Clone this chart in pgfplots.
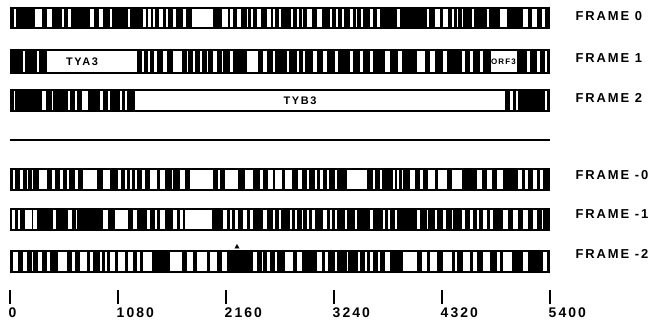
\documentclass[border=0pt]{standalone}
\usepackage{fontspec}
\setmainfont{Liberation Sans}[LetterSpace=15]
\usepackage{pgfplots}
\pgfplotsset{compat=1.18}
\begin{document}
\begin{tikzpicture}[lab/.style={anchor=west, font=\bfseries\fontsize{13}{15}\selectfont}]
\begin{axis}[
  scale only axis, width=655bp, height=323bp,
  xmin=-95, xmax=6455, ymin=-26, ymax=297,
  axis y line=none, axis x line*=middle,
  x axis line style={draw=none},
  xtick={0,1080,2160,3240,4320,5400},
  xticklabels={0,1080,2160,3240,4320,5400},
  tick align=center, major tick length=14bp,
  tick style={black, line width=2bp},
  xticklabel style={anchor=north west, inner xsep=0pt, font=\bfseries\fontsize{14}{16}\selectfont, xshift=-1bp},
  /pgf/number format/assume math mode=true,
  clip=false,
  gap/.style={white, line width=#1, line cap=butt, unbounded coords=jump},
]
\path (rel axis cs:0,0) rectangle (rel axis cs:1,1);
% black row bodies
\addplot[fill=black, draw=none] coordinates {(0,268)(5400,268)(5400,290)(0,290)} -- cycle;
\addplot[fill=black, draw=none] coordinates {(0,223)(5400,223)(5400,248)(0,248)} -- cycle;
\addplot[fill=black, draw=none] coordinates {(0,185)(5400,185)(5400,208)(0,208)} -- cycle;
\addplot[fill=black, draw=none] coordinates {(0,106)(5400,106)(5400,129)(0,129)} -- cycle;
\addplot[fill=black, draw=none] coordinates {(0,66)(5400,66)(5400,89)(0,89)} -- cycle;
\addplot[fill=black, draw=none] coordinates {(0,23.5)(5400,23.5)(5400,46.5)(0,46.5)} -- cycle;
% FRAME 0
\addplot[gap=18bp] coordinates {(40,279)(62,279)(nan,nan)(255,279)(322,279)(nan,nan)(372,279)(428,279)(nan,nan)(528,279)(545,279)(nan,nan)(588,279)(612,279)(nan,nan)(805,279)(845,279)(nan,nan)(895,279)(938,279)(nan,nan)(1005,279)(1028,279)(nan,nan)(1188,279)(1205,279)(nan,nan)(1338,279)(1365,279)(nan,nan)(1388,279)(1412,279)(nan,nan)(1432,279)(1455,279)(nan,nan)(1498,279)(1532,279)(nan,nan)(1565,279)(1588,279)(nan,nan)(1632,279)(1665,279)(nan,nan)(1732,279)(1765,279)(nan,nan)(1828,279)(2038,279)(nan,nan)(2122,279)(2188,279)(nan,nan)(2205,279)(2238,279)(nan,nan)(2278,279)(2312,279)(nan,nan)(2372,279)(2388,279)(nan,nan)(2412,279)(2432,279)(nan,nan)(2472,279)(2512,279)(nan,nan)(2572,279)(2612,279)(nan,nan)(2638,279)(2658,279)(nan,nan)(2695,279)(2712,279)(nan,nan)(2812,279)(2832,279)(nan,nan)(2872,279)(2892,279)(nan,nan)(2922,279)(2938,279)(nan,nan)(2978,279)(3022,279)(nan,nan)(3072,279)(3122,279)(nan,nan)(3205,279)(3225,279)(nan,nan)(3265,279)(3282,279)(nan,nan)(3322,279)(3345,279)(nan,nan)(3405,279)(3432,279)(nan,nan)(3465,279)(3478,279)(nan,nan)(3512,279)(3538,279)(nan,nan)(3605,279)(3638,279)(nan,nan)(3672,279)(3705,279)(nan,nan)(3872,279)(3905,279)(nan,nan)(4172,279)(4195,279)(nan,nan)(4255,279)(4305,279)(nan,nan)(4338,279)(4388,279)(nan,nan)(4422,279)(4445,279)(nan,nan)(4472,279)(4488,279)(nan,nan)(4522,279)(4538,279)(nan,nan)(4622,279)(4645,279)(nan,nan)(4772,279)(4795,279)(nan,nan)(4905,279)(4972,279)(nan,nan)(5138,279)(5188,279)(nan,nan)(5222,279)(5272,279)(nan,nan)(5322,279)(5355,279)};
% FRAME 1
\addplot[gap=21bp] coordinates {(132,235.5)(155,235.5)(nan,nan)(272,235.5)(298,235.5)(nan,nan)(372,235.5)(1272,235.5)(nan,nan)(1322,235.5)(1345,235.5)(nan,nan)(1388,235.5)(1405,235.5)(nan,nan)(1445,235.5)(1472,235.5)(nan,nan)(1538,235.5)(1572,235.5)(nan,nan)(1638,235.5)(1722,235.5)(nan,nan)(1772,235.5)(1788,235.5)(nan,nan)(1838,235.5)(1855,235.5)(nan,nan)(1905,235.5)(1922,235.5)(nan,nan)(1972,235.5)(1988,235.5)(nan,nan)(2038,235.5)(2072,235.5)(nan,nan)(2122,235.5)(2138,235.5)(nan,nan)(2205,235.5)(2238,235.5)(nan,nan)(2372,235.5)(2488,235.5)(nan,nan)(2538,235.5)(2572,235.5)(nan,nan)(2638,235.5)(2655,235.5)(nan,nan)(2772,235.5)(2795,235.5)(nan,nan)(2872,235.5)(2895,235.5)(nan,nan)(2938,235.5)(2955,235.5)(nan,nan)(3038,235.5)(3072,235.5)(nan,nan)(3138,235.5)(3172,235.5)(nan,nan)(3255,235.5)(3288,235.5)(nan,nan)(3405,235.5)(3438,235.5)(nan,nan)(3505,235.5)(3538,235.5)(nan,nan)(3605,235.5)(3638,235.5)(nan,nan)(3755,235.5)(3805,235.5)(nan,nan)(3888,235.5)(3922,235.5)(nan,nan)(4072,235.5)(4155,235.5)(nan,nan)(4205,235.5)(4255,235.5)(nan,nan)(4338,235.5)(4372,235.5)(nan,nan)(4522,235.5)(4555,235.5)(nan,nan)(4605,235.5)(4638,235.5)(nan,nan)(4705,235.5)(4738,235.5)(nan,nan)(4812,235.5)(5072,235.5)(nan,nan)(5172,235.5)(5205,235.5)(nan,nan)(5272,235.5)(5305,235.5)(nan,nan)(5355,235.5)(5372,235.5)};
% FRAME 2
\addplot[gap=19bp] coordinates {(45,196.5)(58,196.5)(nan,nan)(322,196.5)(365,196.5)(nan,nan)(422,196.5)(438,196.5)(nan,nan)(588,196.5)(605,196.5)(nan,nan)(655,196.5)(678,196.5)(nan,nan)(722,196.5)(788,196.5)(nan,nan)(905,196.5)(938,196.5)(nan,nan)(988,196.5)(1005,196.5)(nan,nan)(1105,196.5)(1122,196.5)(nan,nan)(1155,196.5)(1172,196.5)(nan,nan)(1255,196.5)(4955,196.5)(nan,nan)(5005,196.5)(5032,196.5)(nan,nan)(5065,196.5)(5088,196.5)(nan,nan)(5355,196.5)(5372,196.5)};
% FRAME -0
\addplot[gap=19bp] coordinates {(32,117.5)(55,117.5)(nan,nan)(105,117.5)(132,117.5)(nan,nan)(172,117.5)(188,117.5)(nan,nan)(222,117.5)(238,117.5)(nan,nan)(298,117.5)(372,117.5)(nan,nan)(422,117.5)(455,117.5)(nan,nan)(505,117.5)(532,117.5)(nan,nan)(572,117.5)(598,117.5)(nan,nan)(655,117.5)(688,117.5)(nan,nan)(738,117.5)(872,117.5)(nan,nan)(938,117.5)(1005,117.5)(nan,nan)(1088,117.5)(1112,117.5)(nan,nan)(1155,117.5)(1172,117.5)(nan,nan)(1205,117.5)(1222,117.5)(nan,nan)(1255,117.5)(1278,117.5)(nan,nan)(1322,117.5)(1355,117.5)(nan,nan)(1405,117.5)(1472,117.5)(nan,nan)(1505,117.5)(1555,117.5)(nan,nan)(1622,117.5)(1638,117.5)(nan,nan)(1705,117.5)(1755,117.5)(nan,nan)(1805,117.5)(2038,117.5)(nan,nan)(2088,117.5)(2105,117.5)(nan,nan)(2155,117.5)(2288,117.5)(nan,nan)(2355,117.5)(2438,117.5)(nan,nan)(2505,117.5)(2538,117.5)(nan,nan)(2588,117.5)(2638,117.5)(nan,nan)(2655,117.5)(2722,117.5)(nan,nan)(2755,117.5)(2822,117.5)(nan,nan)(2888,117.5)(2922,117.5)(nan,nan)(2972,117.5)(2998,117.5)(nan,nan)(3055,117.5)(3072,117.5)(nan,nan)(3105,117.5)(3132,117.5)(nan,nan)(3172,117.5)(3198,117.5)(nan,nan)(3255,117.5)(3278,117.5)(nan,nan)(3372,117.5)(3572,117.5)(nan,nan)(3638,117.5)(3655,117.5)(nan,nan)(3705,117.5)(3722,117.5)(nan,nan)(3838,117.5)(3855,117.5)(nan,nan)(3878,117.5)(3898,117.5)(nan,nan)(3922,117.5)(3938,117.5)(nan,nan)(4005,117.5)(4055,117.5)(nan,nan)(4105,117.5)(4138,117.5)(nan,nan)(4188,117.5)(4255,117.5)(nan,nan)(4288,117.5)(4372,117.5)(nan,nan)(4422,117.5)(4522,117.5)(nan,nan)(4672,117.5)(4722,117.5)(nan,nan)(4772,117.5)(4822,117.5)(nan,nan)(4872,117.5)(4938,117.5)(nan,nan)(5088,117.5)(5122,117.5)(nan,nan)(5155,117.5)(5188,117.5)(nan,nan)(5238,117.5)(5272,117.5)(nan,nan)(5305,117.5)(5332,117.5)};
% FRAME -1
\addplot[gap=19bp] coordinates {(22,77.5)(55,77.5)(nan,nan)(88,77.5)(105,77.5)(nan,nan)(155,77.5)(222,77.5)(nan,nan)(238,77.5)(272,77.5)(nan,nan)(438,77.5)(465,77.5)(nan,nan)(588,77.5)(622,77.5)(nan,nan)(665,77.5)(678,77.5)(nan,nan)(938,77.5)(988,77.5)(nan,nan)(1055,77.5)(1188,77.5)(nan,nan)(1238,77.5)(1272,77.5)(nan,nan)(1372,77.5)(1405,77.5)(nan,nan)(1455,77.5)(1472,77.5)(nan,nan)(1505,77.5)(1555,77.5)(nan,nan)(1638,77.5)(1672,77.5)(nan,nan)(1705,77.5)(1738,77.5)(nan,nan)(1755,77.5)(2022,77.5)(nan,nan)(2138,77.5)(2172,77.5)(nan,nan)(2205,77.5)(2222,77.5)(nan,nan)(2255,77.5)(2288,77.5)(nan,nan)(2338,77.5)(2372,77.5)(nan,nan)(2405,77.5)(2438,77.5)(nan,nan)(2538,77.5)(2572,77.5)(nan,nan)(2638,77.5)(2655,77.5)(nan,nan)(2698,77.5)(2712,77.5)(nan,nan)(2805,77.5)(2822,77.5)(nan,nan)(2855,77.5)(2872,77.5)(nan,nan)(2922,77.5)(2938,77.5)(nan,nan)(2972,77.5)(2998,77.5)(nan,nan)(3022,77.5)(3055,77.5)(nan,nan)(3138,77.5)(3172,77.5)(nan,nan)(3205,77.5)(3222,77.5)(nan,nan)(3255,77.5)(3272,77.5)(nan,nan)(3355,77.5)(3378,77.5)(nan,nan)(3455,77.5)(3472,77.5)(nan,nan)(3605,77.5)(3638,77.5)(nan,nan)(3738,77.5)(3755,77.5)(nan,nan)(3788,77.5)(3805,77.5)(nan,nan)(3855,77.5)(3872,77.5)(nan,nan)(4072,77.5)(4105,77.5)(nan,nan)(4172,77.5)(4188,77.5)(nan,nan)(4255,77.5)(4272,77.5)(nan,nan)(4338,77.5)(4362,77.5)(nan,nan)(4422,77.5)(4438,77.5)(nan,nan)(4522,77.5)(4555,77.5)(nan,nan)(4605,77.5)(4638,77.5)(nan,nan)(4672,77.5)(4698,77.5)(nan,nan)(4738,77.5)(4772,77.5)(nan,nan)(4805,77.5)(4838,77.5)(nan,nan)(4938,77.5)(4988,77.5)(nan,nan)(5038,77.5)(5088,77.5)(nan,nan)(5138,77.5)(5188,77.5)(nan,nan)(5238,77.5)(5272,77.5)(nan,nan)(5322,77.5)(5338,77.5)};
% FRAME -2
\addplot[gap=19bp] coordinates {(38,35)(88,35)(nan,nan)(138,35)(178,35)(nan,nan)(222,35)(238,35)(nan,nan)(288,35)(322,35)(nan,nan)(372,35)(405,35)(nan,nan)(488,35)(572,35)(nan,nan)(622,35)(655,35)(nan,nan)(705,35)(772,35)(nan,nan)(805,35)(838,35)(nan,nan)(905,35)(922,35)(nan,nan)(955,35)(972,35)(nan,nan)(1005,35)(1055,35)(nan,nan)(1088,35)(1155,35)(nan,nan)(1188,35)(1238,35)(nan,nan)(1272,35)(1305,35)(nan,nan)(1338,35)(1422,35)(nan,nan)(1605,35)(1722,35)(nan,nan)(1772,35)(1838,35)(nan,nan)(1872,35)(1972,35)(nan,nan)(2005,35)(2072,35)(nan,nan)(2122,35)(2172,35)(nan,nan)(2438,35)(2472,35)(nan,nan)(2522,35)(2538,35)(nan,nan)(2572,35)(2605,35)(nan,nan)(2655,35)(2672,35)(nan,nan)(2755,35)(2838,35)(nan,nan)(2872,35)(2922,35)(nan,nan)(3072,35)(3122,35)(nan,nan)(3155,35)(3188,35)(nan,nan)(3255,35)(3272,35)(nan,nan)(3372,35)(3388,35)(nan,nan)(3488,35)(3505,35)(nan,nan)(3555,35)(3572,35)(nan,nan)(3605,35)(3638,35)(nan,nan)(3688,35)(3705,35)(nan,nan)(3755,35)(3805,35)(nan,nan)(3938,35)(4072,35)(nan,nan)(4122,35)(4172,35)(nan,nan)(4205,35)(4272,35)(nan,nan)(4338,35)(4422,35)(nan,nan)(4455,35)(4472,35)(nan,nan)(4538,35)(4605,35)(nan,nan)(4638,35)(4672,35)(nan,nan)(4738,35)(4805,35)(nan,nan)(4872,35)(4905,35)(nan,nan)(4938,35)(5022,35)(nan,nan)(5138,35)(5188,35)(nan,nan)(5338,35)(5372,35)};
% separator
\addplot[black, line width=1.5bp] coordinates {(0,157)(5400,157)};
% small marker above frame -2
\addplot[only marks, mark=triangle*, mark size=2.5bp, black] coordinates {(2275,50)};
% labels
\node[lab] at (axis cs:5625,281) {FRAME 0};
\node[lab] at (axis cs:5625,239) {FRAME 1};
\node[lab] at (axis cs:5625,199) {FRAME 2};
\node[lab] at (axis cs:5625,122) {FRAME -0};
\node[lab] at (axis cs:5625,83) {FRAME -1};
\node[lab] at (axis cs:5625,43) {FRAME -2};
\node[font=\bfseries\fontsize{11}{13}\selectfont] at (axis cs:725,235.5) {TYA3};
\node[font=\bfseries\fontsize{8}{10}\selectfont] at (axis cs:4940,235.5) {ORF3};
\node[font=\bfseries\fontsize{11}{13}\selectfont] at (axis cs:2905,196.5) {TYB3};
\end{axis}
\end{tikzpicture}
\end{document}
